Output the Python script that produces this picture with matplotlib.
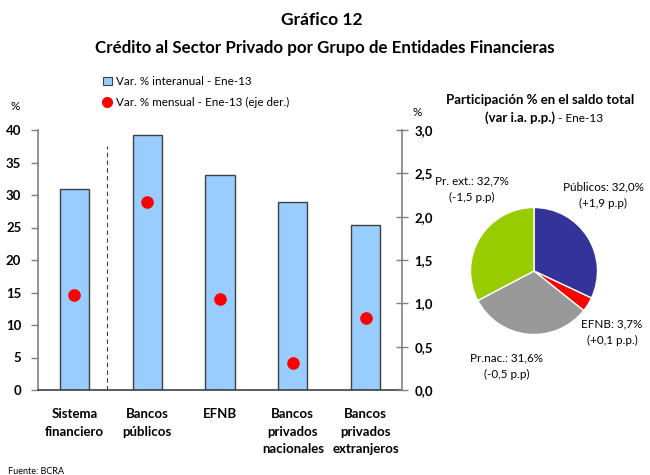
import matplotlib
matplotlib.use("Agg")
import matplotlib.pyplot as plt
from matplotlib.lines import Line2D
from matplotlib.patches import Patch

plt.rcParams['font.family'] = ['Lato', 'DejaVu Sans']

categories = ["Sistema\nfinanciero", "Bancos\npúblicos", "EFNB", "Bancos\nprivados\nnacionales", "Bancos\nprivados\nextranjeros"]
var_interanual = [31.0, 39.3, 33.1, 28.9, 25.4]
var_mensual = [1.10, 2.17, 1.05, 0.31, 0.83]
left_ticks = [0, 5, 10, 15, 20, 25, 30, 35, 40]
right_ticks = [0.0, 0.5, 1.0, 1.5, 2.0, 2.5, 3.0]

pie_labels = ["Públicos: 32,0%\n(+1,9 p.p)", "EFNB: 3,7%\n(+0,1 p.p.)", "Pr.nac.: 31,6%\n(-0,5 p.p)", "Pr. ext.: 32,7%\n(-1,5 p.p)"]
pie_values = [32.0, 3.7, 31.6, 32.7]
pie_colors = ["#333399", "#FF0000", "#999999", "#99CC00"]

W, H = 650, 475
fig = plt.figure(figsize=(6.5, 4.75), dpi=100)

def px(x0, y0, x1, y1):
    return [x0 / W, 1 - y1 / H, (x1 - x0) / W, (y1 - y0) / H]

ax = fig.add_axes(px(38, 130, 402, 390))
x = list(range(len(categories)))
ax.bar(x, var_interanual, width=0.4, color="#99CCFF", edgecolor="#404040", linewidth=1.0, zorder=2)
ax.set_xlim(-0.5, 4.5)
ax.set_ylim(0, 40)
ax.set_yticks(left_ticks)
ax.set_yticklabels([str(t) for t in left_ticks], fontweight="bold", fontsize=9.5)
ax.set_xticks(x)
ax.set_xticklabels(categories, fontweight="bold", fontsize=9.5, linespacing=1.55)
ax.tick_params(axis="x", length=0, pad=13)
ax.tick_params(axis="y", direction="out", length=5, color="#808080", width=1, pad=7)
ax.spines["top"].set_visible(False)
ax.spines["right"].set_visible(False)
ax.spines["left"].set_color("#808080")
ax.spines["bottom"].set_color("#404040")
ax.spines["left"].set_linewidth(1.2)
ax.spines["bottom"].set_linewidth(1.2)
ax.plot([0.45, 0.45], [0, 37.5], linestyle=(0, (4, 3)), color="#404040", linewidth=0.8, zorder=3)

ax2 = ax.twinx()
ax2.set_ylim(0, 3.0)
ax2.set_yticks(right_ticks)
ax2.set_yticklabels([f"{t:.1f}".replace(".", ",") for t in right_ticks], fontweight="bold", fontsize=9.5)
ax2.scatter(x, var_mensual, s=65, color="#FF0000", zorder=4)
ax2.tick_params(axis="y", direction="inout", length=8, color="#808080", width=1, pad=5)
for s in ["top", "left", "bottom"]:
    ax2.spines[s].set_visible(False)
ax2.spines["right"].set_color("#808080")
ax2.spines["right"].set_linewidth(1.2)

fig.text(15 / W, 1 - 106 / H, "%", fontsize=8.5, ha="center", va="center")
fig.text(417 / W, 1 - 112 / H, "%", fontsize=8.5, ha="center", va="center")

handles = [Patch(facecolor="#99CCFF", edgecolor="#404040", linewidth=0.8, label="Var. % interanual - Ene-13"),
           Line2D([], [], marker="o", linestyle="none", color="#FF0000", markersize=7, label="Var. % mensual - Ene-13 (eje der.)")]
fig.legend(handles=handles, loc="upper left", bbox_to_anchor=(98 / W, 1 - 71 / H), frameon=False,
           fontsize=8.4, handlelength=0.8, handletextpad=0.3, labelspacing=0.85, borderaxespad=0)

fig.text(322 / W, 1 - 20 / H, "Gráfico 12", fontsize=12.5, fontweight="bold", ha="center", va="center")
fig.text(325 / W, 1 - 48 / H, "Crédito al Sector Privado por Grupo de Entidades Financieras", fontsize=12.2,
         fontweight="bold", ha="center", va="center")

fig.text(540 / W, 1 - 100 / H, "Participación % en el saldo total", fontsize=9.5, fontweight="bold", ha="center", va="center")
fig.text(555 / W, 1 - 118 / H, "(var i.a. p.p.)", fontsize=9.5, fontweight="bold", ha="right", va="center")
fig.text(555 / W, 1 - 118 / H, " - Ene-13", fontsize=8.5, ha="left", va="center")

r = 63.5
cx, cy = 534, 271
pax = fig.add_axes(px(cx - r, cy - r, cx + r, cy + r))
pax.pie(pie_values, colors=pie_colors, startangle=90, counterclock=False,
        wedgeprops=dict(edgecolor="white", linewidth=1.0))
pax.set_xlim(-1, 1)
pax.set_ylim(-1, 1)
pax.set_aspect("equal")
label_pos = [(603, 195), (612, 332), (507, 366), (472, 189)]
for lab, (lx, ly) in zip(pie_labels, label_pos):
    fig.text(lx / W, 1 - ly / H, lab, fontsize=8.4, ha="center", va="center", linespacing=1.55)

fig.text(8 / W, 1 - 472 / H, "Fuente: BCRA", fontsize=6.5, ha="left", va="center")

fig.savefig("out.png", dpi=100)
